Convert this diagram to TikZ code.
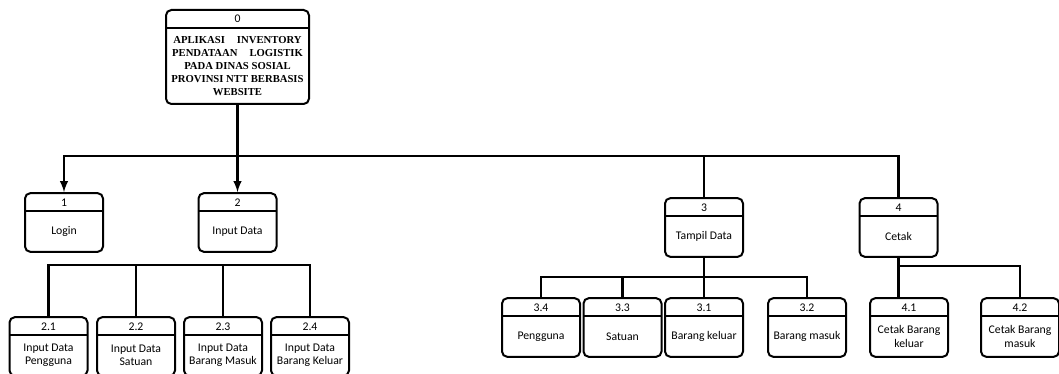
\documentclass[tikz,border=0pt]{standalone}
\usepackage{fontspec}
\setmainfont{Carlito}
\newfontfamily\judulfont{Liberation Serif}
\usetikzlibrary{arrows}

\begin{document}
\begin{tikzpicture}[x=0.75pt,y=-0.75pt,>=latex]
  \tikzstyle{kotak}=[draw=black,line width=1.5pt,rounded corners=4pt,inner sep=0pt,minimum width=58.5pt,minimum height=44pt,
    text height=9.75pt,text depth=34.25pt,font=\fontsize{8.8}{10}\selectfont,
    path picture={\draw[line width=1.5pt] ([yshift=-13.5pt]path picture bounding box.north west) -- ([yshift=-13.5pt]path picture bounding box.north east);}]
  \tikzstyle{utama}=[kotak,minimum width=107.25pt,minimum height=70.5pt,text depth=60.75pt]
  \tikzstyle{isi}=[align=center,yshift=-6.75pt,font=\fontsize{8.8}{10}\selectfont]
  \tikzstyle{isiutama}=[isi,font=\judulfont\bfseries\fontsize{8}{9.75}\selectfont]
  \tikzstyle{garis}=[line width=1.8pt]

  \useasboundingbox (0,0) rectangle (1059,374);

  % level 0
  \node [utama,label={[isiutama]center:{APLIKASI\hspace{9pt}INVENTORY\\PENDATAAN\hspace{9pt}LOGISTIK\\PADA DINAS SOSIAL\\PROVINSI NTT BERBASIS\\WEBSITE}}] (p0) at (237.5,57) {0};

  % level 1
  \node [kotak,label={[isi]center:Login}]       (p1) at (64,222.5)    {1};
  \node [kotak,label={[isi]center:Input Data}]  (p2) at (237.5,222.5) {2};
  \node [kotak,label={[isi]center:Tampil Data}] (p3) at (704,227.5)   {3};
  \node [kotak,label={[isi]center:Cetak}]       (p4) at (898.5,227.5) {4};

  % level 2
  \node [kotak,label={[isi]center:{Input Data\\Pengguna}}]      (p21) at (48.5,346.5) {2.1};
  \node [kotak,label={[isi]center:{Input Data\\Satuan}}]        (p22) at (136,346.5)  {2.2};
  \node [kotak,label={[isi]center:{Input Data\\Barang Masuk}}]  (p23) at (223,346.5)  {2.3};
  \node [kotak,label={[isi]center:{Input Data\\Barang Keluar}}] (p24) at (310,346.5)  {2.4};

  \node [kotak,label={[isi]center:Pengguna}]      (p34) at (541,327.5)   {3.4};
  \node [kotak,label={[isi]center:Satuan}]        (p33) at (622.5,327.5) {3.3};
  \node [kotak,label={[isi]center:Barang keluar}] (p31) at (704,327.5)   {3.1};
  \node [kotak,label={[isi]center:Barang masuk}]  (p32) at (807,327.5)   {3.2};

  \node [kotak,label={[isi]center:{Cetak Barang\\keluar}}] (p41) at (909,327.5)  {4.1};
  \node [kotak,label={[isi]center:{Cetak Barang\\masuk}}]  (p42) at (1020,327.5) {4.2};

  % bus
  \coordinate (busU) at (0,156);
  \coordinate (busA) at (0,265);
  \coordinate (busC) at (0,277);
  \coordinate (busD) at (0,266);

  \draw [garis] (p0.south) -- (p0.south |- busU);
  \draw [garis,<-] (p1.north) -- (p1.north |- busU) -- (p4.north |- busU) -- (p4.north);
  \draw [garis,->] (p0.south |- busU) -- (p2.north);
  \draw [garis] (p3.north |- busU) -- (p3.north);

  \draw [garis] (p21.north) -- (p21.north |- busA) -- (p24.north |- busA) -- (p24.north);
  \draw [garis] (p22.north) -- (p22.north |- busA);
  \draw [garis] (p23.north) -- (p23.north |- busA);

  \draw [garis] (p34.north) -- (p34.north |- busC) -- (p32.north |- busC) -- (p32.north);
  \draw [garis] (p33.north) -- (p33.north |- busC);
  \draw [garis] (p3.south) -- (p31.north);

  \draw [garis] (p4.south) -- (p4.south |- p41.north);
  \draw [garis] (p4.south |- busD) -- (p42.north |- busD) -- (p42.north);
\end{tikzpicture}
\end{document}
